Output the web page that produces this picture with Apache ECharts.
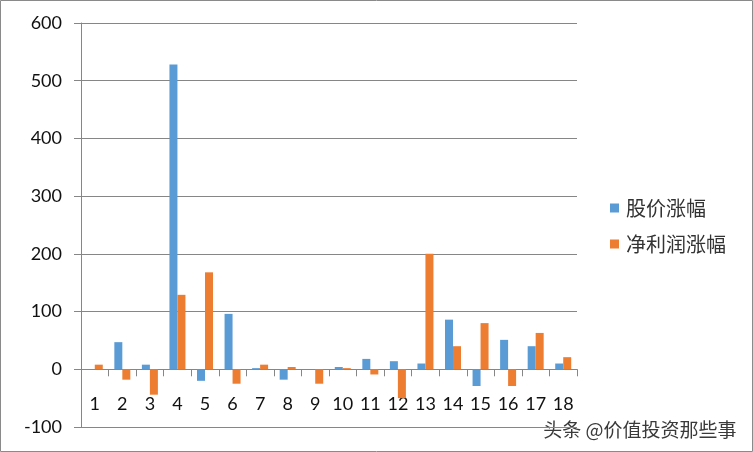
<!DOCTYPE html>
<html>
<head>
<meta charset="utf-8">
<script src="https://cdn.jsdelivr.net/npm/echarts@6/dist/echarts.min.js"></script>
<style>
	html,body{margin:0;padding:0;background:#fff;}
	#chartMain{width:753px;height:452px;}
</style>
</head>
<body>
<div id="chartMain"></div>
<script>
//横轴分类
var categories = ['1','2','3','4','5','6','7','8','9','10','11','12','13','14','15','16','17','18'];
//股价涨幅
var priceRise = [0, 47, 8, 528, -20, 96, 2, -18, 0, 4, 18, 14, 10, 86, -29, 51, 40, 10];
//净利润涨幅
var profitRise = [8, -18, -44, 129, 168, -25, 8, 4, -25, 2, -9, -50, 200, 40, 80, -29, 63, 21];
var seriesNames = ['股价涨幅', '净利润涨幅'];
var watermark = '头条 @价值投资那些事';

window.onload = function(){
	loadChart();
};

//加载涨幅对比图
function loadChart(){
	var gridColor = '#868686';
	var numFont = 'Lato, "Liberation Sans", sans-serif';
	var option = {
		backgroundColor: '#fff',
		animation: false,
		color: ['#5B9BD5', '#ED7D31'],
		grid: {
			left: 81,
			right: 176,
			top: 23,
			bottom: 25,
			containLabel: false,
			outerBoundsMode: 'none'
		},
		legend: {
			orient: 'vertical',
			left: 605,
			top: 193,
			itemWidth: 9,
			itemHeight: 9,
			itemGap: 16,
			icon: 'rect',
			textStyle: {
				fontSize: 20,
				color: '#333',
				fontFamily: '"Noto Sans CJK SC", sans-serif',
				padding: [0, 0, 0, 2]
			},
			data: seriesNames
		},
		xAxis: {
			type: 'category',
			data: categories,
			axisLine: {onZero: true, lineStyle: {color: gridColor}},
			axisTick: {show: true, interval: 0, length: 7, lineStyle: {color: gridColor}},
			axisLabel: {
				interval: 0,
				margin: -32,	//标签跟随0轴
				fontSize: 18,
				color: '#111',
				fontFamily: numFont
			},
			splitLine: {show: false}
		},
		yAxis: {
			type: 'value',
			min: -100,
			max: 600,
			interval: 100,
			axisLine: {show: true, lineStyle: {color: gridColor}},
			axisTick: {show: true, length: 7, lineStyle: {color: gridColor}},
			axisLabel: {
				margin: 19,
				fontSize: 18,
				color: '#111',
				fontFamily: numFont
			},
			splitLine: {lineStyle: {color: gridColor}}
		},
		series: [
			{
				name: seriesNames[0],
				type: 'bar',
				barWidth: 8,
				barGap: '0%',
				data: priceRise
			},
			{
				name: seriesNames[1],
				type: 'bar',
				barWidth: 8,
				data: profitRise
			}
		],
		graphic: [
			{
				type: 'rect',
				silent: true,
				shape: {x: 0.5, y: 0.5, width: 752, height: 451},
				style: {fill: 'none', stroke: '#8a8a8a', lineWidth: 1}
			},
			{
				type: 'text',
				silent: true,
				right: 15,
				top: 419,
				style: {
					text: watermark,
					font: '19px "Noto Sans CJK SC", sans-serif',
					fill: '#3a3a3a',
					stroke: '#fff',
					lineWidth: 3
				}
			}
		]
	};
	var chart = echarts.init(document.getElementById('chartMain'));
	chart.setOption(option);
	window.onresize = chart.resize;
}
</script>
</body>
</html>
